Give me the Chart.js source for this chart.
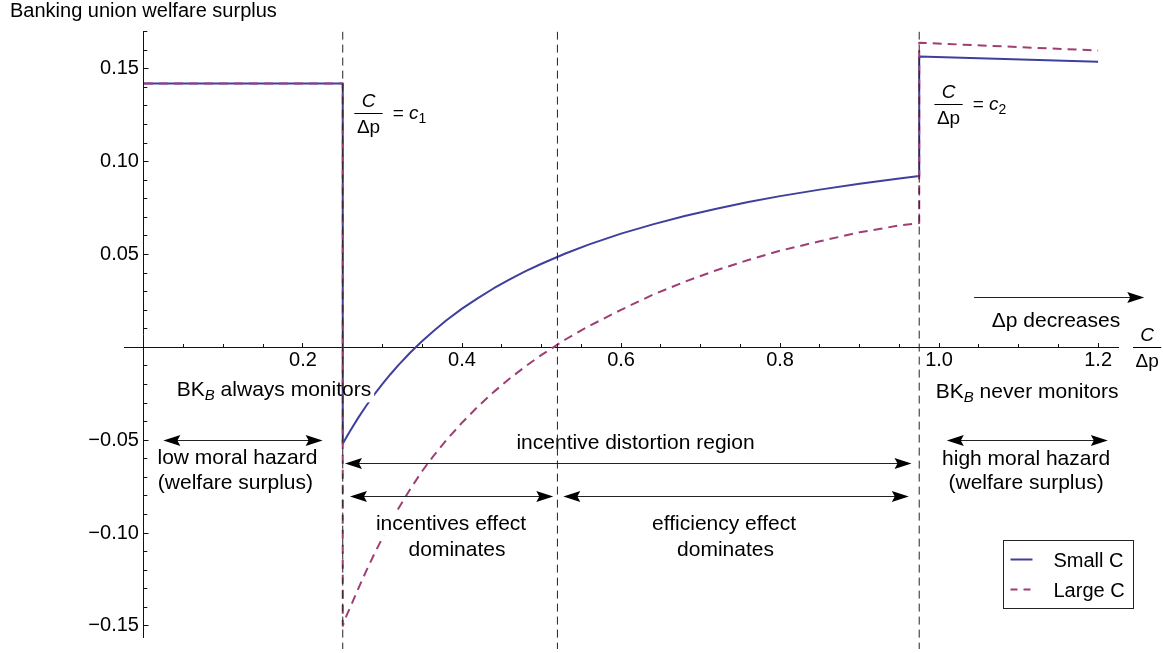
<!DOCTYPE html>
<html>
<head>
<meta charset="utf-8">
<title>Banking union welfare surplus</title>
<script src="https://cdn.jsdelivr.net/npm/chart.js@4.4.1/dist/chart.umd.min.js"></script>
<style>
html,body{margin:0;padding:0;background:#ffffff;}
#box{position:relative;width:1163px;height:653px;}
</style>
</head>
<body>
<div id="box"><canvas id="chart" width="1163" height="653"></canvas></div>
<script>
// ---------------- data ----------------
const stepX     = [0, 0.25];
const stepSmall = [0.142, 0.142];
const stepLarge = [0.142, 0.142];

const curveX     = [0.25, 0.255, 0.26, 0.27, 0.28, 0.29, 0.30, 0.31, 0.32, 0.335, 0.35, 0.365, 0.38, 0.40, 0.42, 0.44, 0.46, 0.48, 0.50, 0.53, 0.56, 0.60, 0.64, 0.68, 0.72, 0.76, 0.80, 0.85, 0.90, 0.95, 0.975];
const curveSmall = [-0.0520, -0.0482, -0.0445, -0.0376, -0.0312, -0.0252, -0.0197, -0.0145, -0.0096, -0.0028, 0.0034, 0.0091, 0.0144, 0.0208, 0.0265, 0.0318, 0.0366, 0.0410, 0.0450, 0.0505, 0.0554, 0.0612, 0.0662, 0.0707, 0.0746, 0.0782, 0.0814, 0.0849, 0.0881, 0.0909, 0.0923];
const curveLarge = [-0.1500, -0.1442, -0.1395, -0.1295, -0.1200, -0.1110, -0.1025, -0.0945, -0.0868, -0.0763, -0.0666, -0.0580, -0.0501, -0.0406, -0.0319, -0.0240, -0.0168, -0.0102, -0.0041, 0.0042, 0.0115, 0.0202, 0.0283, 0.0353, 0.0415, 0.0470, 0.0520, 0.0571, 0.0619, 0.0656, 0.0669];

const tailX     = [0.975, 1.2];
const tailSmall = [0.1566, 0.1538];
const tailLarge = [0.1640, 0.1598];

const regionBounds = [0.25, 0.52, 0.975];
const boundSpan    = [0.17, -0.17];

const seriesNames = ['Small C', 'Large C'];

const xTickValues = [0.2, 0.4, 0.6, 0.8, 1.0, 1.2];
const xTickLabels = ['0.2', '0.4', '0.6', '0.8', '1.0', '1.2'];
const yTickValues = [0.15, 0.10, 0.05, -0.05, -0.10, -0.15];
const yTickLabels = ['0.15', '0.10', '0.05', '\u22120.05', '\u22120.10', '\u22120.15'];

// ---------------- styles ----------------
const FONT = '"Liberation Sans", Arial, Helvetica, sans-serif';
const BLUE = '#3f3f9e';
const PURPLE = '#9e3f74';
const INK = '#000000';
const ANN = 21;   // annotation font size

function pts(xs, ys) { return xs.map((x, i) => ({ x: x, y: ys[i] })); }
function labelFor(v, values, labels) {
  for (let i = 0; i < values.length; i++) if (Math.abs(values[i] - v) < 1e-6) return labels[i];
  return '';
}

const smallData = pts(stepX, stepSmall).concat(pts(curveX, curveSmall), pts(tailX, tailSmall));
const largeData = pts(stepX, stepLarge).concat(pts(curveX, curveLarge), pts(tailX, tailLarge));

// ---------------- text helpers ----------------
function fontStr(s) { return (s.italic ? 'italic ' : '') + (s.size || ANN) + 'px ' + FONT; }
function richWidth(ctx, segs) {
  let w = 0;
  segs.forEach(s => { ctx.font = fontStr(s); w += ctx.measureText(s.t).width; });
  return w;
}
function drawRich(ctx, segs, x, y, align, bg, gapPx) {
  const w = richWidth(ctx, segs);
  let sx = align === 'center' ? x - w / 2 : (align === 'right' ? x - w : x);
  if (bg) {
    ctx.fillStyle = '#ffffff';
    const l = sx - 3, r = sx + w + 3;
    if (gapPx !== undefined && gapPx > l && gapPx < r) {
      ctx.fillRect(l, y - 17, (gapPx - 3) - l, 23);
      ctx.fillRect(gapPx + 3, y - 17, r - (gapPx + 3), 23);
    } else {
      ctx.fillRect(l, y - 17, w + 6, 23);
    }
  }
  ctx.fillStyle = INK; ctx.textAlign = 'left'; ctx.textBaseline = 'alphabetic';
  segs.forEach(s => { ctx.font = fontStr(s); ctx.fillText(s.t, sx, y + (s.dy || 0)); sx += ctx.measureText(s.t).width; });
  return sx;
}
function drawFrac(ctx, cx, barY, size) {
  ctx.fillStyle = INK; ctx.textBaseline = 'alphabetic'; ctx.textAlign = 'center';
  ctx.font = 'italic ' + size + 'px ' + FONT;
  ctx.fillText('C', cx, barY - 6);
  ctx.font = size + 'px ' + FONT;
  const dw = ctx.measureText('\u0394p').width;
  ctx.fillText('\u0394p', cx, barY + 20);
  const bw = dw + 5;
  ctx.strokeStyle = INK; ctx.lineWidth = 1;
  ctx.beginPath(); ctx.moveTo(cx - bw / 2, Math.round(barY) + 0.5); ctx.lineTo(cx + bw / 2, Math.round(barY) + 0.5); ctx.stroke();
  return cx + bw / 2;
}
function head(ctx, tipX, y, dir) {
  const L = 17, H = 5.5, notch = 3;
  ctx.beginPath();
  ctx.moveTo(tipX, y);
  ctx.lineTo(tipX - dir * L, y - H);
  ctx.lineTo(tipX - dir * (L - notch), y);
  ctx.lineTo(tipX - dir * L, y + H);
  ctx.closePath(); ctx.fill();
}
function arrow(ctx, x1, x2, y, both) {
  ctx.strokeStyle = '#222'; ctx.fillStyle = '#000'; ctx.lineWidth = 1.2;
  ctx.beginPath(); ctx.moveTo(x1 + (both ? 10 : 0), y); ctx.lineTo(x2 - 10, y); ctx.stroke();
  head(ctx, x2, y, 1);
  if (both) head(ctx, x1, y, -1);
}

// annotation layout (data coordinates)
const LABELS = [
  { segs: [{ t: 'BK' }, { t: 'B', italic: true, size: 15, dy: 4 }, { t: ' always monitors' }], x: 0.1635, y: -0.0264, align: 'center', bg: true, gap: 0.25 },
  { segs: [{ t: 'BK' }, { t: 'B', italic: true, size: 15, dy: 4 }, { t: ' never monitors' }], x: 1.1107, y: -0.0272, align: 'center', bg: true },
  { segs: [{ t: 'low moral hazard' }], x: 0.1176, y: -0.0628, align: 'center', bg: true },
  { segs: [{ t: '(welfare surplus)' }], x: 0.1150, y: -0.0762, align: 'center', bg: true },
  { segs: [{ t: 'high moral hazard' }], x: 1.1094, y: -0.0635, align: 'center', bg: true },
  { segs: [{ t: '(welfare surplus)' }], x: 1.1094, y: -0.0762, align: 'center', bg: true },
  { segs: [{ t: 'incentive distortion region' }], x: 0.6182, y: -0.0546, align: 'center', bg: true },
  { segs: [{ t: 'incentives effect' }], x: 0.3862, y: -0.0983, align: 'center', bg: true },
  { segs: [{ t: 'dominates' }], x: 0.3937, y: -0.1126, align: 'center', bg: true },
  { segs: [{ t: 'efficiency effect' }], x: 0.7296, y: -0.0983, align: 'center', bg: true },
  { segs: [{ t: 'dominates' }], x: 0.7314, y: -0.1126, align: 'center', bg: true },
  { segs: [{ t: '\u0394p decreases' }], x: 1.147, y: 0.0112, align: 'center', bg: false }
];
const ARROWS = [
  { x1: 0.0244, x2: 0.2247, y: -0.0497, both: true },
  { x1: 1.0097, x2: 1.2122, y: -0.0500, both: true },
  { x1: 0.2528, x2: 0.9653, y: -0.0625, both: true },
  { x1: 0.2591, x2: 0.5148, y: -0.0801, both: true },
  { x1: 0.5274, x2: 0.9619, y: -0.0801, both: true },
  { x1: 1.044, x2: 1.258, y: 0.0272, both: false }
];
const FRACS = [
  { x: 0.2824, y: 0.1264, sub: '1' },
  { x: 1.0119, y: 0.1309, sub: '2' }
];
const AXIS_FRAC = { x: 1.2616, y: 0.0 };
const LEGEND = { x1: 1.0809, x2: 1.2444, y1: -0.1037, y2: -0.1405 };

function drawTexts(chart) {
  const ctx = chart.ctx, xs = chart.scales.x, ys = chart.scales.y;
  ctx.save();
  LABELS.forEach(l => drawRich(ctx, l.segs, xs.getPixelForValue(l.x), ys.getPixelForValue(l.y), l.align, l.bg,
                               l.gap !== undefined ? xs.getPixelForValue(l.gap) : undefined));
  FRACS.forEach(f => {
    const bx = xs.getPixelForValue(f.x), by = ys.getPixelForValue(f.y);
    const right = drawFrac(ctx, bx, by, 19);
    drawRich(ctx, [{ t: '= ', size: 19 }, { t: 'c', italic: true, size: 19 }, { t: f.sub, size: 14, dy: 4 }], right + 10, by + 6, 'left', false);
  });
  drawFrac(ctx, xs.getPixelForValue(AXIS_FRAC.x), ys.getPixelForValue(AXIS_FRAC.y), 19);
  ctx.restore();
}
function drawOverlay(chart) {
  const ctx = chart.ctx, xs = chart.scales.x, ys = chart.scales.y;
  ctx.save();
  ARROWS.forEach(a => arrow(ctx, xs.getPixelForValue(a.x1), xs.getPixelForValue(a.x2), Math.round(ys.getPixelForValue(a.y)) + 0.5, a.both));
  // legend
  const lx1 = Math.round(xs.getPixelForValue(LEGEND.x1)) + 0.5, lx2 = Math.round(xs.getPixelForValue(LEGEND.x2)) + 0.5;
  const ly1 = Math.round(ys.getPixelForValue(LEGEND.y1)) + 0.5, ly2 = Math.round(ys.getPixelForValue(LEGEND.y2)) + 0.5;
  ctx.fillStyle = '#fff'; ctx.fillRect(lx1, ly1, lx2 - lx1, ly2 - ly1);
  ctx.strokeStyle = '#222'; ctx.lineWidth = 1; ctx.strokeRect(lx1, ly1, lx2 - lx1, ly2 - ly1);
  chart.data.datasets.slice(0, 2).forEach((ds, i) => {
    const rowY = ly1 + 19 + i * 30;
    ctx.strokeStyle = ds.borderColor; ctx.lineWidth = 2;
    ctx.setLineDash(ds.borderDash ? [7, 6] : []);
    ctx.beginPath(); ctx.moveTo(lx1 + 7, rowY); ctx.lineTo(lx1 + 29, rowY); ctx.stroke();
    ctx.setLineDash([]);
    ctx.fillStyle = INK; ctx.font = '20px ' + FONT; ctx.textAlign = 'left'; ctx.textBaseline = 'alphabetic';
    ctx.fillText(ds.label, lx1 + 50, rowY + 7);
  });
  ctx.restore();
}

const annotPlugin = {
  id: 'annot',
  beforeDatasetsDraw(chart) { chart.$textDone = false; },
  beforeDatasetDraw(chart, args) {
    const ds = chart.data.datasets[args.index];
    if (ds.isBound && !chart.$textDone) { drawTexts(chart); chart.$textDone = true; }
  },
  afterDatasetsDraw(chart) {
    if (!chart.$textDone) { drawTexts(chart); chart.$textDone = true; }
    drawOverlay(chart);
  },
  afterDraw(chart) {
    const ctx = chart.ctx;
    ctx.save();
    ctx.fillStyle = INK; ctx.font = '20px ' + FONT; ctx.textAlign = 'left'; ctx.textBaseline = 'alphabetic';
    ctx.fillText('Banking union welfare surplus', 10, 17);
    ctx.restore();
  }
};

const tickFont = { family: FONT, size: 20 };

new Chart(document.getElementById('chart'), {
  type: 'line',
  data: {
    datasets: [
      { label: seriesNames[0], data: smallData, borderColor: BLUE, backgroundColor: BLUE, borderWidth: 2, pointRadius: 0, fill: false, order: 2 },
      { label: seriesNames[1], data: largeData, borderColor: PURPLE, backgroundColor: PURPLE, borderWidth: 2, borderDash: [9, 6], pointRadius: 0, fill: false, order: 1 }
    ].concat(regionBounds.map(b => ({
      label: 'bound', isBound: true, data: boundSpan.map(y => ({ x: b, y: y })),
      borderColor: '#222', borderWidth: 1, borderDash: [8, 5], pointRadius: 0, fill: false, order: 0,
      clip: { left: 0, top: 0, right: 0, bottom: 12 }
    })))
  },
  options: {
    responsive: false,
    animation: false,
    devicePixelRatio: 1,
    layout: { padding: { left: 124, right: 45, top: 31.6, bottom: 10 } },
    plugins: { legend: { display: false }, tooltip: { enabled: false } },
    elements: { point: { radius: 0 }, line: { tension: 0, borderJoinStyle: 'round' } },
    scales: {
      x: {
        type: 'linear', axis: 'x', min: -0.0251, max: 1.225, position: { y: 0 },
        border: { display: true, color: '#111', width: 1 },
        grid: { display: true, drawOnChartArea: false, drawTicks: true, tickLength: -5, tickColor: '#111', tickWidth: 1 },
        ticks: { stepSize: 0.2, includeBounds: false, autoSkip: false, maxRotation: 0, padding: 6.5, color: INK, font: tickFont,
                 callback: v => labelFor(v, xTickValues, xTickLabels) }
      },
      x2: {
        type: 'linear', axis: 'x', min: -0.0251, max: 1.225, position: { y: 0 },
        border: { display: false },
        grid: { display: true, drawOnChartArea: false, drawTicks: true, tickLength: -3, tickColor: '#111', tickWidth: 1 },
        ticks: { stepSize: 0.05, includeBounds: false, autoSkip: false, display: false }
      },
      y: {
        type: 'linear', axis: 'y', min: -0.156, max: 0.17, position: { x: 0 },
        border: { display: true, color: '#111', width: 1 },
        grid: { display: true, drawOnChartArea: false, drawTicks: true, tickLength: -5.5, tickColor: '#111', tickWidth: 1 },
        ticks: { stepSize: 0.05, includeBounds: false, autoSkip: false, padding: 4, color: INK, font: tickFont,
                 callback: v => { const l = labelFor(v, yTickValues, yTickLabels); return l ? l + '\u2005' : ''; } }
      },
      y2: {
        type: 'linear', axis: 'y', min: -0.156, max: 0.17, position: { x: 0 },
        border: { display: false },
        grid: { display: true, drawOnChartArea: false, drawTicks: true, tickLength: -3.3, tickColor: '#111', tickWidth: 1 },
        ticks: { stepSize: 0.01, includeBounds: false, autoSkip: false, display: false }
      }
    }
  },
  plugins: [annotPlugin]
});
</script>
</body>
</html>
